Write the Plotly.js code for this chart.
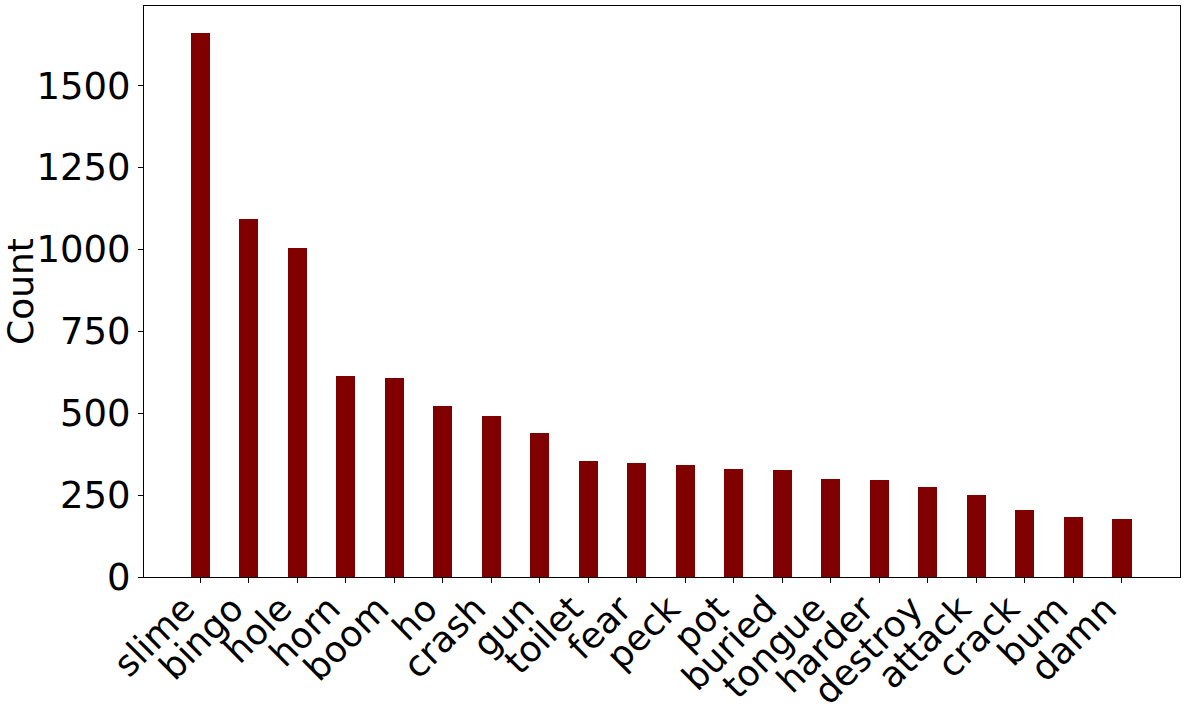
<!DOCTYPE html>
<html>
<head>
<meta charset="utf-8">
<script src="https://cdn.plot.ly/plotly-3.0.1.min.js"></script>
<style>html,body{margin:0;padding:0;background:#fff;}#chart{width:1183px;height:711px;}</style>
</head>
<body>
<div id="chart"></div>
<script>
const words = ["slime","bingo","hole","horn","boom","ho","crash","gun","toilet","fear","peck","pot","buried","tongue","harder","destroy","attack","crack","bum","damn"];
const counts = [1660,1094,1005,615,606,523,490,441,355,349,343,331,328,300,297,276,249,206,184,178];
const yTicks = [0,250,500,750,1000,1250,1500];

const trace = {
  type: 'bar',
  x: words,
  y: counts,
  width: 0.4,
  marker: {color: '#800000', line: {width: 0}},
  hoverinfo: 'x+y'
};

const layout = {
  width: 1183,
  height: 711,
  margin: {l: 144, r: 3, t: 6, b: 134, pad: 0},
  paper_bgcolor: '#ffffff',
  plot_bgcolor: '#ffffff',
  font: {family: 'DejaVu Sans', color: '#000000', size: 36},
  showlegend: false,
  bargap: 0,
  xaxis: {
    type: 'category',
    range: [-1.16, 20.2],
    tickangle: -45,
    tickfont: {family: 'DejaVu Sans', size: 36, color: '#000'},
    ticklabelshift: -16,
    ticklabelstandoff: -10,
    showline: true, mirror: true, linecolor: '#000', linewidth: 1,
    ticks: 'outside', ticklen: 5, tickwidth: 1, tickcolor: '#000',
    showgrid: false, zeroline: false
  },
  yaxis: {
    range: [0, 1743],
    tickvals: yTicks,
    ticktext: yTicks.map(String),
    tickfont: {family: 'DejaVu Sans', size: 37, color: '#000'},
    title: {text: 'Count', font: {family: 'DejaVu Sans', size: 36, color: '#000'}, standoff: 8},
    showline: true, mirror: true, linecolor: '#000', linewidth: 1,
    ticks: 'outside', ticklen: 5, tickwidth: 1, tickcolor: '#000',
    showgrid: false, zeroline: false
  }
};

Plotly.newPlot('chart', [trace], layout, {displayModeBar: false, staticPlot: true});
</script>
</body>
</html>
